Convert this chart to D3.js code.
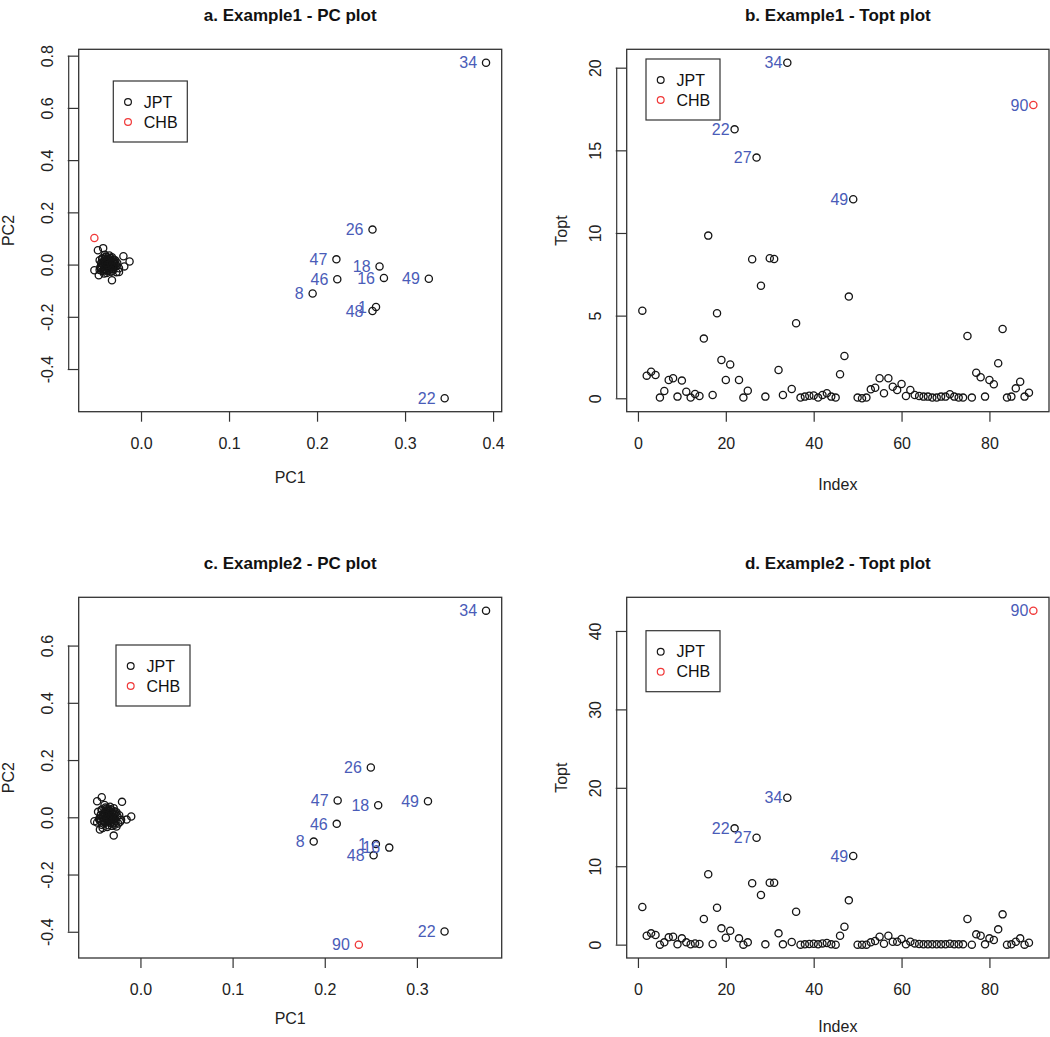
<!DOCTYPE html>
<html><head><meta charset="utf-8">
<script src="https://cdn.jsdelivr.net/npm/d3@7/dist/d3.min.js"></script>
<style>body{margin:0;background:#fff}text{font-family:"Liberation Sans",Arial,Helvetica,sans-serif}</style>
</head><body><svg id="chart" width="1050" height="1037"></svg>
<script>
// ---------------- data ----------------
const index = d3.range(1, 91);
// population: last individual (90) is CHB, others JPT
const population = index.map(i => i === 90 ? "CHB" : "JPT");
const legendLabels = ["JPT", "CHB"];

// Example1 PC scores
const pc1Ex1 = [0.267,-0.039,-0.035,-0.042,-0.033,-0.038,-0.045,0.195,-0.030,-0.041,
  -0.036,-0.046,-0.032,-0.038,-0.043,0.276,-0.028,0.271,-0.039,-0.034,
  -0.044,0.345,-0.037,-0.031,-0.042,0.263,-0.035,-0.049,-0.039,-0.029,
  -0.043,-0.036,-0.020,0.392,-0.040,-0.033,-0.046,-0.031,-0.037,-0.042,
  -0.035,-0.053,-0.025,-0.039,-0.033,0.223,0.222,0.263,0.327,-0.038,
  -0.044,-0.032,-0.043,-0.013,-0.036,-0.048,-0.029,-0.040,-0.036,-0.019,
  -0.045,-0.032,-0.039,-0.041,-0.030,-0.037,-0.047,-0.034,-0.042,-0.027,
  -0.040,-0.035,-0.045,-0.031,-0.038,-0.042,-0.033,-0.041,-0.036,-0.047,
  -0.028,-0.039,-0.034,-0.044,-0.025,-0.038,-0.033,-0.046,-0.040,-0.053];
const pc2Ex1 = [-0.162,0.008,-0.006,0.015,0.003,-0.014,0.005,-0.111,0.011,-0.022,
  0.020,-0.009,-0.017,0.027,-0.001,-0.051,-0.004,-0.007,0.002,-0.027,
  0.022,-0.512,0.013,-0.010,-0.016,0.134,0.006,0.055,-0.032,0.016,
  0.001,-0.020,0.032,0.773,0.031,-0.001,-0.014,0.007,-0.008,0.012,
  0.025,-0.022,-0.028,-0.004,-0.060,-0.056,0.020,-0.178,-0.054,0.018,
  -0.025,0.009,0.063,0.012,-0.012,-0.041,0.002,-0.006,0.035,-0.007,
  0.008,-0.024,0.021,-0.019,-0.011,0.001,0.017,0.014,-0.034,0.006,
  0.029,-0.016,-0.004,0.019,-0.026,0.005,-0.006,0.038,0.011,-0.021,
  -0.029,-0.009,0.004,0.024,-0.014,-0.002,0.028,-0.011,0.006,0.102];

// Example1 Topt
const toptEx1 = [5.30,1.37,1.61,1.41,0.04,0.44,1.11,1.21,0.10,1.07,
  0.40,0.04,0.26,0.14,3.61,9.84,0.20,5.14,2.32,1.11,
  2.05,16.27,1.11,0.04,0.46,8.41,14.56,6.81,0.10,8.47,
  8.43,1.71,0.20,20.30,0.56,4.54,0.04,0.10,0.15,0.17,
  0.04,0.20,0.30,0.10,0.04,1.45,2.56,6.15,12.04,0.04,
  0.00,0.04,0.54,0.64,1.21,0.30,1.21,0.70,0.50,0.86,
  0.14,0.50,0.20,0.14,0.10,0.10,0.04,0.04,0.10,0.10,
  0.24,0.10,0.04,0.04,3.77,0.04,1.55,1.27,0.10,1.11,
  0.85,2.12,4.19,0.04,0.10,0.60,1.00,0.10,0.34,17.74];

// Example2 PC scores
const pc1Ex2 = [0.2555,-0.036,-0.032,-0.039,-0.030,-0.035,-0.043,0.188,-0.027,-0.038,
  -0.033,-0.045,-0.029,-0.035,-0.041,0.270,-0.020,0.258,-0.036,-0.031,
  -0.042,0.330,-0.034,-0.028,-0.040,0.250,-0.032,-0.047,-0.036,-0.026,
  -0.041,-0.033,-0.015,0.375,-0.038,-0.030,-0.044,-0.028,-0.035,-0.039,
  -0.032,-0.050,-0.024,-0.037,-0.029,0.213,0.214,0.253,0.312,-0.035,
  -0.042,-0.029,-0.042,-0.010,-0.034,-0.044,-0.025,-0.038,-0.033,-0.021,
  -0.043,-0.028,-0.036,-0.039,-0.027,-0.034,-0.046,-0.031,-0.041,-0.023,
  -0.037,-0.032,-0.044,-0.028,-0.035,-0.040,-0.030,-0.039,-0.033,-0.047,
  -0.026,-0.036,-0.031,-0.042,-0.022,-0.035,-0.029,-0.043,-0.038,0.237];
const pc2Ex2 = [-0.093,0.006,-0.008,0.017,0.001,-0.015,0.008,-0.085,0.013,-0.019,
  0.022,-0.006,-0.021,0.031,0.002,-0.106,0.054,0.042,0.004,-0.030,
  0.024,-0.399,0.015,-0.007,-0.013,0.174,0.009,0.056,-0.034,0.018,
  -0.001,-0.018,-0.008,0.722,0.034,0.002,-0.011,0.010,-0.010,0.014,
  0.027,-0.014,-0.022,-0.002,-0.064,-0.023,0.059,-0.133,0.056,0.020,
  -0.026,0.011,0.070,0.003,-0.013,-0.043,0.004,-0.004,0.037,-0.009,
  0.009,-0.026,0.024,-0.017,-0.014,0.000,0.019,0.016,-0.037,0.007,
  0.031,-0.020,-0.003,0.021,-0.028,0.006,-0.008,0.043,0.013,-0.018,
  -0.032,-0.011,0.005,0.027,-0.016,-0.004,0.032,-0.013,0.008,-0.445];

// Example2 Topt
const toptEx2 = [4.80,1.14,1.44,1.22,0.00,0.29,0.93,1.00,0.04,0.80,
  0.29,0.05,0.16,0.08,3.27,8.97,0.08,4.71,2.08,0.88,
  1.77,14.83,0.80,0.00,0.29,7.82,13.64,6.33,0.04,7.90,
  7.90,1.44,0.04,18.74,0.33,4.20,0.00,0.04,0.08,0.12,
  0.04,0.16,0.20,0.04,0.00,1.14,2.28,5.65,11.30,0.00,
  0.00,0.00,0.29,0.46,1.00,0.12,1.14,0.37,0.37,0.71,
  0.04,0.37,0.16,0.08,0.04,0.04,0.04,0.04,0.04,0.04,
  0.12,0.04,0.04,0.04,3.27,0.00,1.31,1.14,0.04,0.80,
  0.59,1.95,3.86,0.00,0.04,0.37,0.80,0.00,0.25,42.59];

// labelled individuals
const labelledPCEx1 = [1,8,16,18,22,26,34,46,47,48,49];
const labelledToptEx1 = [22,27,34,49,90];
const labelledPCEx2 = [1,8,16,18,22,26,34,46,47,48,49,90];
const labelledToptEx2 = [22,27,34,49,90];

// tick values
const ticksPC1Ex1 = [0,0.1,0.2,0.3,0.4];
const ticksPC2Ex1 = [-0.4,-0.2,0,0.2,0.4,0.6,0.8];
const ticksIdx = [0,20,40,60,80];
const ticksToptEx1 = [0,5,10,15,20];
const ticksPC1Ex2 = [0,0.1,0.2,0.3];
const ticksPC2Ex2 = [-0.4,-0.2,0,0.2,0.4,0.6];
const ticksToptEx2 = [0,10,20,30,40];

const titles = ["a. Example1 - PC plot","b. Example1 - Topt plot","c. Example2 - PC plot","d. Example2 - Topt plot"];

// ---------------- drawing ----------------
const svg = d3.select("#chart");
const BLUE = "#4a5cb8", RED = "#f03838", INK = "#151515";
const colorOf = p => p === "CHB" ? RED : INK;

function rpad(vals){ const e=d3.extent(vals); const p=(e[1]-e[0])*0.04; return [e[0]-p, e[1]+p]; }

function panel(cfg){
  const {x0,x1,y0,y1} = cfg.box;
  const g = svg.append("g");
  const x = d3.scaleLinear().domain(rpad(cfg.xs)).range([x0,x1]);
  const y = d3.scaleLinear().domain(rpad(cfg.ys)).range([y1,y0]);

  // title
  g.append("text").attr("x",(x0+x1)/2).attr("y",y0-28)
    .attr("text-anchor","middle").attr("font-size",17).attr("font-weight","bold")
    .attr("fill","#111").text(cfg.title);

  // x axis
  const xa = g.append("g").attr("transform",`translate(0,${y1})`)
    .call(d3.axisBottom(x).tickValues(cfg.xt).tickSize(10).tickFormat(cfg.xf));
  xa.select(".domain").remove();
  xa.selectAll("line").attr("stroke","#333").attr("stroke-width",1.2);
  xa.selectAll("text").attr("y",26).attr("dy","0.71em").attr("font-size",16)
    .attr("fill","#222").attr("font-family",null);

  // y axis
  const ya = g.append("g").attr("transform",`translate(${x0},0)`)
    .call(d3.axisLeft(y).tickValues(cfg.yt).tickSize(11).tickFormat(cfg.yf));
  ya.select(".domain").remove();
  ya.selectAll("line").attr("stroke","#333").attr("stroke-width",1.2);
  ya.selectAll("text").attr("x",null).attr("dy",null)
    .attr("transform","translate(-26,0) rotate(-90)").attr("text-anchor","middle")
    .attr("font-size",16).attr("fill","#222").attr("font-family",null);
  const ye = d3.extent(cfg.yt);
  ya.append("line").attr("x1",-10).attr("x2",-10).attr("y1",y(ye[0])).attr("y2",y(ye[1]))
    .attr("stroke","#333").attr("stroke-width",1.2);

  // axis titles
  g.append("text").attr("x",(x0+x1)/2).attr("y",y1+cfg.xlabOff).attr("dy","0.35em")
    .attr("text-anchor","middle").attr("font-size",16).attr("fill","#222").text(cfg.xlab);
  g.append("text").attr("transform",`translate(${x0-cfg.ylabOff},${(y0+y1)/2}) rotate(-90)`)
    .attr("dy","0.35em").attr("text-anchor","middle").attr("font-size",16).attr("fill","#222").text(cfg.ylab);

  // box
  g.append("rect").attr("x",x0).attr("y",y0).attr("width",x1-x0).attr("height",y1-y0)
    .attr("fill","none").attr("stroke","#333").attr("stroke-width",1.3);

  // points
  const pts = index.map((id,k)=>({id, xv:cfg.xs[k], yv:cfg.ys[k], pop:population[k]}));
  g.append("g").selectAll("circle").data(pts).join("circle")
    .attr("cx",d=>x(d.xv)).attr("cy",d=>y(d.yv)).attr("r",3.6)
    .attr("fill","none").attr("stroke",d=>colorOf(d.pop)).attr("stroke-width",1.3);

  // labels
  g.append("g").selectAll("text").data(pts.filter(d=>cfg.labelled.includes(d.id))).join("text")
    .attr("x",d=>x(d.xv)-cfg.labOff).attr("y",d=>y(d.yv)).attr("dy","0.36em")
    .attr("text-anchor","end").attr("font-size",16).attr("fill",BLUE).text(d=>d.id);

  // legend
  const lg = g.append("g").attr("transform",`translate(${x0+cfg.leg[0]},${y0+cfg.leg[1]})`);
  lg.append("rect").attr("width",74).attr("height",61).attr("fill","#fff")
    .attr("stroke","#333").attr("stroke-width",1.2);
  legendLabels.forEach((lab,i)=>{
    lg.append("circle").attr("cx",14.7).attr("cy",21+20*i).attr("r",3.4)
      .attr("fill","none").attr("stroke",colorOf(lab)).attr("stroke-width",1.2);
    lg.append("text").attr("x",30.5).attr("y",21+20*i).attr("dy","0.36em")
      .attr("font-size",16).attr("fill","#111").text(lab);
  });
}

const f1 = d => d.toFixed(1), f0 = d => String(d);
const rowTop = {y0:49.3,y1:411.7}, rowBot = {y0:597.3,y1:958};
const colL = {x0:78.7,x1:501.7}, colR = {x0:626.7,x1:1049};

panel({box:{...colL,...rowTop}, xs:pc1Ex1, ys:pc2Ex1, xt:ticksPC1Ex1, yt:ticksPC2Ex1, xf:f1, yf:f1,
  title:titles[0], xlab:"PC1", xlabOff:66, ylab:"PC2", ylabOff:70, labelled:labelledPCEx1, labOff:9, leg:[34.6,31.7]});
panel({box:{...colR,...rowTop}, xs:index, ys:toptEx1, xt:ticksIdx, yt:ticksToptEx1, xf:f0, yf:f0,
  title:titles[1], xlab:"Index", xlabOff:73, ylab:"Topt", ylabOff:65, labelled:labelledToptEx1, labOff:5, leg:[19.3,9.7]});
panel({box:{...colL,...rowBot}, xs:pc1Ex2, ys:pc2Ex2, xt:ticksPC1Ex2, yt:ticksPC2Ex2, xf:f1, yf:f1,
  title:titles[2], xlab:"PC1", xlabOff:60, ylab:"PC2", ylabOff:70, labelled:labelledPCEx2, labOff:9, leg:[37.3,47.7]});
panel({box:{...colR,...rowBot}, xs:index, ys:toptEx2, xt:ticksIdx, yt:ticksToptEx2, xf:f0, yf:f0,
  title:titles[3], xlab:"Index", xlabOff:68, ylab:"Topt", ylabOff:65, labelled:labelledToptEx2, labOff:5, leg:[19.3,33.4]});
</script></body></html>
